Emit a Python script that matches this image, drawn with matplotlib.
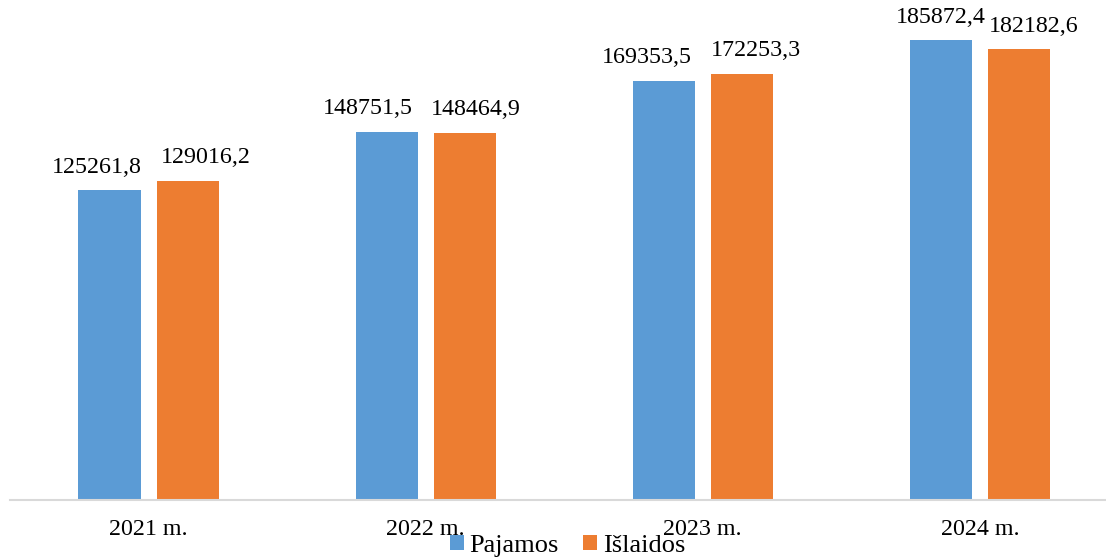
import matplotlib.pyplot as plt
import numpy as np

# Datos del grafico
anios = ['2021 m.', '2022 m.', '2023 m.', '2024 m.']
pajamos = [125261.8, 148751.5, 169353.5, 185872.4]
islaidos = [129016.2, 148464.9, 172253.3, 182182.6]

plt.rcParams['font.family'] = ['Liberation Serif', 'DejaVu Serif']

fig = plt.figure(figsize=(11.06, 5.59), dpi=100)
ax = fig.add_axes([10 / 1106, 59 / 559, 1096 / 1106, 500 / 559])

x = np.arange(len(anios))
ancho = 0.224
desp = 0.141
b1 = ax.bar(x - desp, pajamos, ancho, color='#5B9BD5', label='Pajamos')
b2 = ax.bar(x + desp, islaidos, ancho, color='#ED7D31', label='Išlaidos')

# desplazamientos horizontales de las etiquetas (en pixeles), como en Excel
off_paj = [-13, -19, -17, 0]
off_isl = [18, 11, 14, 15]
for barras, valores, offs in [(b1, pajamos, off_paj), (b2, islaidos, off_isl)]:
    for bar, v, o in zip(barras, valores, offs):
        ax.annotate(f'{v:.1f}'.replace('.', ','),
                    (bar.get_x() + bar.get_width() / 2, bar.get_height()),
                    xytext=(o * 0.72, 16.5), textcoords='offset points',
                    ha='center', va='center', fontsize=17.3)

ax.set_xlim(-0.5, 3.455)
ax.set_ylim(0, 202000)
ax.set_xticks(x)
ax.set_xticklabels(anios, fontsize=17.3)
ax.tick_params(axis='x', length=0, pad=14)
ax.set_yticks([])
for s in ['top', 'right', 'left']:
    ax.spines[s].set_visible(False)
ax.spines['bottom'].set_color('#D9D9D9')
ax.spines['bottom'].set_linewidth(1.5)

fig.legend(loc='center', bbox_to_anchor=(0.513, 0.024), ncol=2, frameon=False,
           fontsize=19, handlelength=0.53, handleheight=0.53, handletextpad=0.23,
           columnspacing=0.9, borderpad=0)

plt.savefig('out.png', dpi=100)
plt.close()
